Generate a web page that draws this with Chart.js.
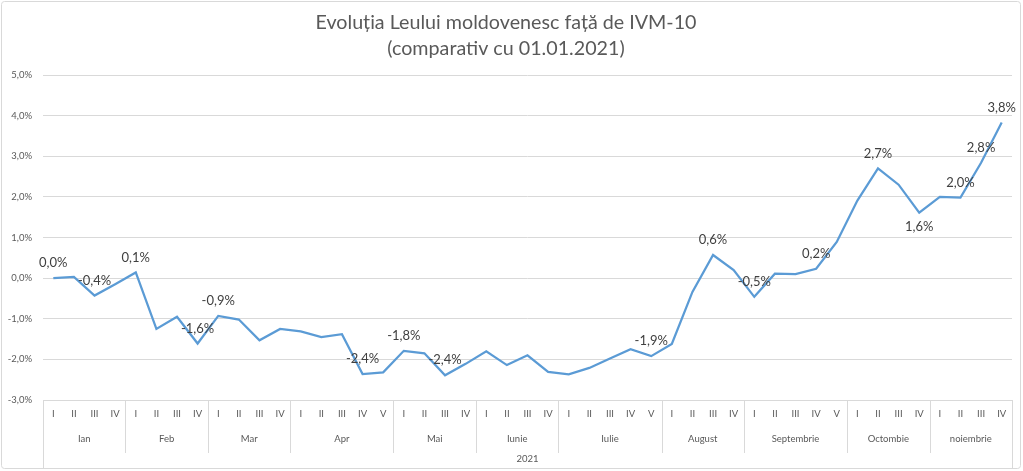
<!DOCTYPE html>
<html>
<head>
<meta charset="utf-8">
<script src="https://cdn.jsdelivr.net/npm/chart.js@4"></script>
<style>
html,body{margin:0;padding:0;background:#fff;}
#wrap{width:1023px;height:471px;position:relative;}
</style>
</head>
<body>
<div id="wrap"><canvas id="c" width="1023" height="471"></canvas></div>
<script>
// ---- data ----
const months = ['Ian','Feb','Mar','Apr','Mai','Iunie','Iulie','August','Septembrie','Octombie','noiembrie'];
const weeksPerMonth = [4,4,4,5,4,4,5,4,5,4,4];
const romanNumerals = ['I','II','III','IV','V'];
const yearLabel = '2021';
const values = [0.00,0.03,-0.43,-0.15,0.14,-1.25,-0.95,-1.61,-0.93,-1.02,-1.53,-1.25,-1.31,-1.45,-1.38,-2.36,-2.32,-1.79,-1.85,-2.39,-2.11,-1.80,-2.14,-1.90,-2.31,-2.37,-2.21,-1.98,-1.75,-1.92,-1.62,-0.34,0.57,0.20,-0.46,0.11,0.10,0.23,0.89,1.91,2.70,2.30,1.61,2.00,1.98,2.84,3.83];
const labeledIdx = [0,2,4,7,8,15,17,19,29,32,34,37,40,42,44,45,46];
const labelBelowIdx = [42];
const yTicks = [-3,-2,-1,0,1,2,3,4,5];
const titleLines = ['Evoluția Leului moldovenesc față de IVM-10','(comparativ cu 01.01.2021)'];

const weekLabels = [];
weeksPerMonth.forEach(n => { for (let i = 0; i < n; i++) weekLabels.push(romanNumerals[i]); });

const FONT = 'Lato, "Open Sans", sans-serif';
const fmt = v => v.toFixed(1).replace('.', ',') + '%';
const GRID = '#d9d9d9';

const groupPlugin = {
  id: 'groups',
  beforeDraw(chart) {
    const ctx = chart.ctx;
    ctx.save();
    ctx.strokeStyle = GRID;
    ctx.lineWidth = 1;
    ctx.beginPath();
    if (ctx.roundRect) ctx.roundRect(1.5, 1.5, 1019, 467, 3); else ctx.rect(1.5,1.5,1019,467);
    ctx.stroke();
    ctx.restore();
  },
  afterDraw(chart) {
    const ctx = chart.ctx;
    const x = chart.scales.x;
    const area = chart.chartArea;
    const half = (x.getPixelForValue(1) - x.getPixelForValue(0)) / 2;
    ctx.save();
    ctx.strokeStyle = GRID;
    ctx.lineWidth = 1;
    ctx.fillStyle = '#595959';
    ctx.font = '9.5px ' + FONT;
    ctx.textAlign = 'center';
    ctx.textBaseline = 'middle';
    let start = 0;
    const bottomMonth = area.bottom + 53;
    const bottomAll = 468;
    weeksPerMonth.forEach((n, mi) => {
      const left = x.getPixelForValue(start) - half;
      const right = x.getPixelForValue(start + n - 1) + half;
      ctx.fillText(months[mi], (left + right) / 2, area.bottom + 38.5);
      start += n;
    });
    // separators
    start = 0;
    const xs = [];
    weeksPerMonth.forEach(n => { xs.push(x.getPixelForValue(start) - half); start += n; });
    xs.push(x.getPixelForValue(start - 1) + half);
    xs.forEach((px, i) => {
      const rx = Math.round(px) + 0.5;
      ctx.beginPath();
      ctx.moveTo(rx, area.bottom);
      ctx.lineTo(rx, (i === 0 || i === xs.length - 1) ? bottomAll : bottomMonth);
      ctx.stroke();
    });
    ctx.fillText(yearLabel, (xs[0] + xs[xs.length - 1]) / 2, area.bottom + 58.5);
    ctx.restore();
  },
  afterDatasetsDraw(chart) {
    const ctx = chart.ctx;
    const meta = chart.getDatasetMeta(0);
    ctx.save();
    ctx.fillStyle = '#404040';
    ctx.font = '13px ' + FONT;
    ctx.textAlign = 'center';
    ctx.textBaseline = 'middle';
    labeledIdx.forEach(i => {
      const p = meta.data[i];
      const below = labelBelowIdx.includes(i);
      ctx.fillText(fmt(values[i]), p.x, p.y + (below ? 14 : -15));
    });
    ctx.restore();
  }
};

new Chart(document.getElementById('c'), {
  type: 'line',
  data: {
    labels: weekLabels,
    datasets: [{
      data: values,
      borderColor: '#5B9BD5',
      borderWidth: 2.25,
      pointRadius: 0,
      tension: 0,
      fill: false
    }]
  },
  options: {
    responsive: false,
    animation: false,
    layout: { padding: { left: 0, right: 11, top: 0, bottom: 0 } },
    plugins: {
      legend: { display: false },
      tooltip: { enabled: false },
      title: {
        display: true,
        text: titleLines,
        color: '#595959',
        font: { family: FONT, size: 19.7, weight: 'normal', lineHeight: 1.32 },
        padding: { top: 10, bottom: 13 }
      }
    },
    scales: {
      x: {
        type: 'category',
        offset: true,
        grid: { display: false, drawTicks: false },
        border: { display: false },
        ticks: {
          color: '#595959',
          font: { family: FONT, size: 9.5 },
          maxRotation: 0,
          autoSkip: false,
          padding: 8
        },
        afterFit(s) { s.height = 71; }
      },
      y: {
        min: -3,
        max: 5,
        afterBuildTicks(s) { s.ticks = yTicks.map(v => ({ value: v })); },
        grid: { color: GRID, drawTicks: false },
        border: { display: false },
        ticks: {
          color: '#595959',
          font: { family: FONT, size: 9.5 },
          padding: 11,
          callback: v => fmt(v)
        },
        afterFit(s) { s.width = 43; }
      }
    }
  },
  plugins: [groupPlugin]
});
</script>
</body>
</html>
